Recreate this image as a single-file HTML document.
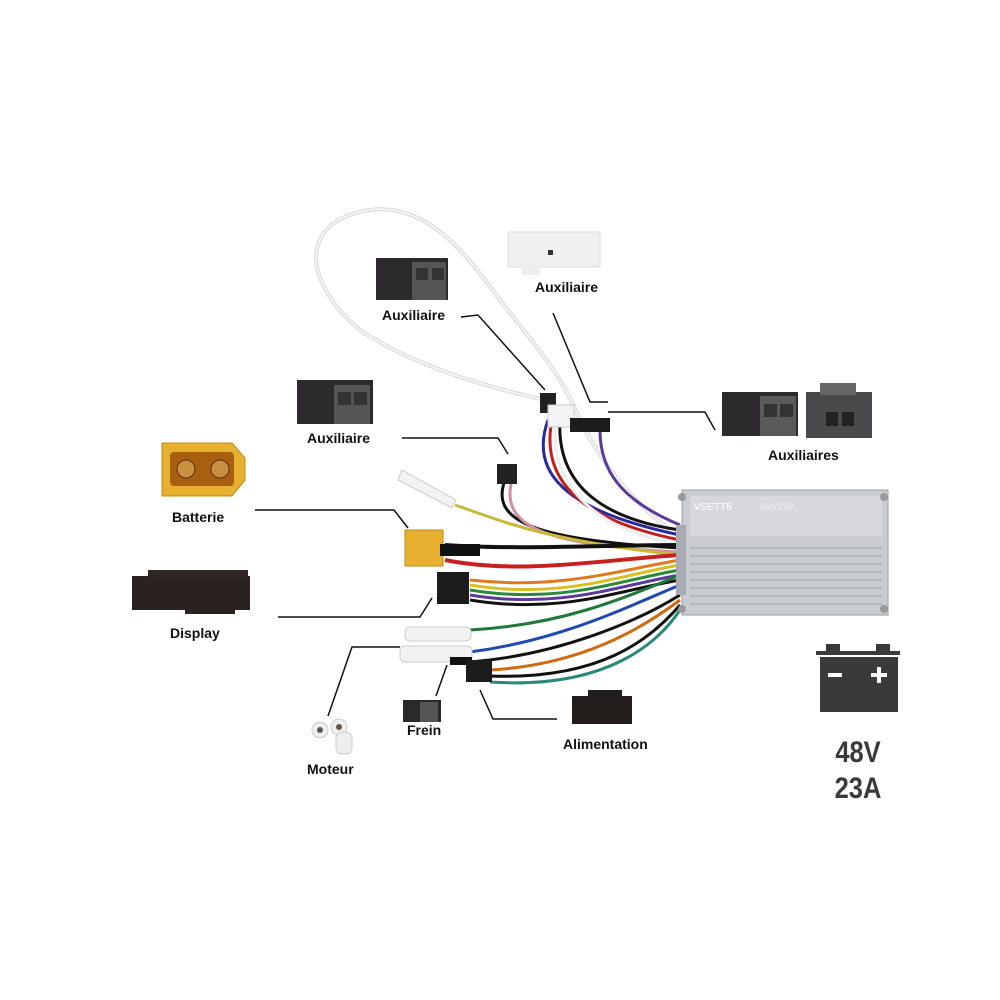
<!DOCTYPE html>
<html><head><meta charset="utf-8"><style>
html,body{margin:0;padding:0;background:#fff}
svg{display:block}
text{font-family:"Liberation Sans",sans-serif;font-weight:bold;font-size:14px;fill:#111}
</style></head><body>
<svg width="1000" height="1000" viewBox="0 0 1000 1000" xmlns="http://www.w3.org/2000/svg">
<rect width="1000" height="1000" fill="#fff"/>
<!-- white loop wire -->
<path d="M545 400 C500 390 420 370 360 330 C300 280 300 220 370 210 C430 202 470 260 500 300 C530 340 560 370 580 420 C600 460 630 500 670 530" fill="none" stroke="#d8d8d8" stroke-width="4"/>
<path d="M545 400 C500 390 420 370 360 330 C300 280 300 220 370 210 C430 202 470 260 500 300 C530 340 560 370 580 420 C600 460 630 500 670 530" fill="none" stroke="#f4f4f4" stroke-width="2"/>
<!-- wires from top bundle -->
<g fill="none" stroke-width="3">
<path d="M548 420 C530 470 560 510 680 535" stroke="#2a2aa0"/>
<path d="M552 420 C540 480 580 520 680 540" stroke="#c02020"/>
<path d="M556 420 C548 490 600 530 680 545" stroke="#eee"/>
<path d="M560 420 C556 490 610 520 680 530" stroke="#111"/>
<path d="M600 430 C600 470 620 500 680 525" stroke="#5a3a9a"/>
<path d="M505 480 C490 520 530 540 680 548" stroke="#111"/>
<path d="M512 480 C500 525 540 545 680 552" stroke="#d090a0"/>
<path d="M455 505 C500 520 540 540 680 555" stroke="#c9b83a"/>
<path d="M445 545 C520 550 600 545 680 545" stroke="#111" stroke-width="4"/>
<path d="M445 560 C520 575 600 560 680 555" stroke="#c82020" stroke-width="4"/>
<path d="M470 580 C560 590 620 570 680 560" stroke="#e07a20"/>
<path d="M470 585 C560 600 620 575 680 565" stroke="#d8c020"/>
<path d="M470 590 C560 605 620 580 680 570" stroke="#2a8a3a"/>
<path d="M470 595 C560 610 620 585 680 575" stroke="#5a3a9a"/>
<path d="M470 600 C560 615 620 590 680 580" stroke="#111"/>
<path d="M470 630 C560 625 620 600 680 575" stroke="#1f7a3a"/>
<path d="M470 652 C560 640 620 610 680 585" stroke="#1f4ab0"/>
<path d="M470 657 C560 648 630 615 680 590" stroke="#fff"/>
<path d="M470 662 C560 655 640 620 680 595" stroke="#111"/>
<path d="M490 670 C580 665 640 630 680 600" stroke="#d06a10"/>
<path d="M490 676 C600 680 650 640 680 605" stroke="#111"/>
<path d="M490 682 C610 690 660 640 680 610" stroke="#2a8a7a"/>
</g>
<!-- controller -->
<rect x="682" y="490" width="206" height="125" fill="#c9ccd0" stroke="#9a9ea4"/>
<rect x="690" y="496" width="192" height="40" fill="#d6d8dc"/>
<g stroke="#aeb2b8" stroke-width="1.5">
<line x1="690" y1="548" x2="882" y2="548"/><line x1="690" y1="556" x2="882" y2="556"/><line x1="690" y1="564" x2="882" y2="564"/><line x1="690" y1="572" x2="882" y2="572"/><line x1="690" y1="580" x2="882" y2="580"/><line x1="690" y1="588" x2="882" y2="588"/><line x1="690" y1="596" x2="882" y2="596"/><line x1="690" y1="604" x2="882" y2="604"/>
</g>
<rect x="676" y="525" width="10" height="70" fill="#a8acb2"/>
<circle cx="682" cy="497" r="4" fill="#999"/><circle cx="884" cy="497" r="4" fill="#999"/><circle cx="682" cy="609" r="4" fill="#999"/><circle cx="884" cy="609" r="4" fill="#999"/>
<text x="694" y="510" style="font-size:10px;fill:#fff;font-weight:normal">VSETT8</text>
<text x="760" y="510" style="font-size:10px;fill:#eee;font-weight:normal">48V23A</text>
<!-- connectors -->
<g>
<!-- top-left aux -->
<rect x="376" y="258" width="72" height="42" fill="#2c2a2c"/><rect x="412" y="262" width="34" height="38" fill="#555"/><rect x="416" y="268" width="12" height="12" fill="#333"/><rect x="432" y="268" width="12" height="12" fill="#333"/>
<!-- white aux -->
<rect x="508" y="232" width="92" height="35" fill="#f0f0f0" stroke="#ddd"/><rect x="522" y="265" width="18" height="10" fill="#eee"/><rect x="548" y="250" width="5" height="5" fill="#333"/>
<!-- mid aux -->
<rect x="297" y="380" width="76" height="44" fill="#2c2a2c"/><rect x="334" y="385" width="36" height="39" fill="#555"/><rect x="338" y="392" width="13" height="13" fill="#333"/><rect x="354" y="392" width="13" height="13" fill="#333"/>
<!-- auxiliaires -->
<rect x="722" y="392" width="76" height="44" fill="#2c2a2c"/><rect x="760" y="396" width="36" height="40" fill="#5a5a5a"/><rect x="764" y="404" width="13" height="13" fill="#333"/><rect x="780" y="404" width="13" height="13" fill="#333"/>
<rect x="806" y="392" width="66" height="46" fill="#4a4a4c"/><rect x="820" y="383" width="36" height="12" fill="#666"/><rect x="826" y="412" width="12" height="14" fill="#222"/><rect x="842" y="412" width="12" height="14" fill="#222"/>
<!-- batterie XT60 -->
<path d="M162 443 L232 443 L245 458 L245 480 L232 496 L162 496 Z" fill="#e8b030" stroke="#c08a10"/>
<rect x="170" y="452" width="64" height="34" rx="4" fill="#a86010"/>
<circle cx="186" cy="469" r="9" fill="#c89040" stroke="#5a3008"/><circle cx="220" cy="469" r="9" fill="#c89040" stroke="#5a3008"/>
<!-- display -->
<rect x="132" y="576" width="118" height="34" fill="#2a2220"/><rect x="148" y="570" width="100" height="10" fill="#2e2624"/><rect x="185" y="606" width="50" height="8" fill="#2a2220"/>
<!-- small parts near bundle -->
<path d="M402 470 L456 500 L452 508 L398 480 Z" fill="#f2f2f2" stroke="#ccc"/>
<rect x="497" y="464" width="20" height="20" fill="#222"/>
<rect x="405" y="530" width="38" height="36" fill="#e8b030" stroke="#c08a10"/>
<rect x="440" y="544" width="40" height="12" fill="#111"/>
<rect x="437" y="572" width="32" height="32" fill="#1c1c1c"/>
<rect x="405" y="627" width="66" height="14" rx="5" fill="#f2f2f2" stroke="#ccc"/>
<rect x="400" y="646" width="72" height="16" rx="5" fill="#f2f2f2" stroke="#ccc"/>
<rect x="450" y="657" width="22" height="8" fill="#111"/>
<rect x="466" y="660" width="26" height="22" fill="#1c1c1c"/>
<rect x="540" y="393" width="16" height="20" fill="#222"/>
<rect x="548" y="405" width="26" height="22" fill="#f4f4f4" stroke="#ccc"/>
<rect x="570" y="418" width="40" height="14" fill="#1c1c1c"/>
<!-- frein -->
<rect x="403" y="700" width="38" height="22" fill="#2a2a2c"/><rect x="420" y="702" width="18" height="20" fill="#555"/>
<!-- alimentation -->
<rect x="572" y="696" width="60" height="28" fill="#221c1a"/><rect x="588" y="690" width="34" height="8" fill="#221c1a"/>
<!-- moteur -->
<circle cx="320" cy="730" r="8" fill="#eee" stroke="#ccc"/><circle cx="339" cy="727" r="8" fill="#eee" stroke="#ccc"/><rect x="336" y="732" width="16" height="22" rx="6" fill="#eee" stroke="#ccc"/>
<circle cx="320" cy="730" r="3" fill="#654"/><circle cx="339" cy="727" r="3" fill="#654"/>
</g>
<!-- leader lines -->
<g fill="none" stroke="#111" stroke-width="1.5">
<polyline points="461,317 478,315 545,390"/>
<polyline points="553,313 590,402 608,402"/>
<polyline points="608,412 705,412 715,430"/>
<polyline points="402,438 498,438 508,454"/>
<polyline points="255,510 394,510 408,528"/>
<polyline points="278,617 420,617 432,598"/>
<polyline points="328,716 352,647 400,647"/>
<polyline points="436,696 447,665"/>
<polyline points="557,719 493,719 480,690"/>
</g>
<!-- labels -->
<text x="382" y="320">Auxiliaire</text>
<text x="535" y="292">Auxiliaire</text>
<text x="307" y="443">Auxiliaire</text>
<text x="768" y="460">Auxiliaires</text>
<text x="172" y="522">Batterie</text>
<text x="170" y="638">Display</text>
<text x="307" y="774">Moteur</text>
<text x="407" y="735">Frein</text>
<text x="563" y="749">Alimentation</text>
<!-- battery icon -->
<rect x="826" y="644" width="14" height="8" fill="#3a3a3a"/><rect x="876" y="644" width="14" height="8" fill="#3a3a3a"/>
<rect x="816" y="651" width="84" height="4" fill="#3a3a3a"/>
<rect x="820" y="657" width="78" height="55" fill="#3a3a3a"/>
<rect x="828" y="673" width="14" height="4" fill="#fff"/>
<rect x="871" y="673" width="16" height="4" fill="#fff"/><rect x="877" y="667" width="4" height="16" fill="#fff"/>
<text x="858" y="762" text-anchor="middle" style="font-size:30px;fill:#3a3a3a" transform="translate(858 0) scale(0.85 1) translate(-858 0)">48V</text>
<text x="858" y="798" text-anchor="middle" style="font-size:30px;fill:#3a3a3a" transform="translate(858 0) scale(0.85 1) translate(-858 0)">23A</text>
</svg>
</body></html>
